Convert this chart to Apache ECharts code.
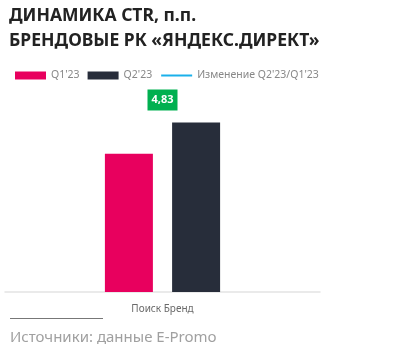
<!DOCTYPE html>
<html><head><meta charset="utf-8">
<script src="https://cdn.jsdelivr.net/npm/echarts@6/dist/echarts.min.js"></script>
<style>html,body{margin:0;padding:0;background:#fff}#c{width:398px;height:362px}</style>
</head><body><div id="c"></div>
<script>
const categories = ['Поиск Бренд'];
const seriesNames = ["Q1'23", "Q2'23", "Изменение Q2'23/Q1'23"];
const q1Values = [21.5];
const q2Values = [26.33];
const changeValues = [4.83];

const chart = echarts.init(document.getElementById('c'));
chart.setOption({
  animation: false,
  title: {
    text: 'ДИНАМИКА CTR, п.п.\nБРЕНДОВЫЕ РК «ЯНДЕКС.ДИРЕКТ»',
    left: 9, top: 4, padding: 0,
    textStyle: {fontFamily: 'Noto Sans', fontWeight: 'bold', fontSize: 17.5, lineHeight: 25, color: '#222'}
  },
  legend: {
    left: 10, top: 65, itemWidth: 31, itemHeight: 8, itemGap: 8,
    textStyle: {fontFamily: 'Noto Sans', fontSize: 10.5, color: '#888'},
    data: [
      {name: seriesNames[0], icon: 'rect'},
      {name: seriesNames[1], icon: 'rect'},
      {name: seriesNames[2], itemStyle: {opacity: 0}}
    ]
  },
  grid: {left: 5, right: 78, top: 99, bottom: 70},
  xAxis: {
    type: 'category', data: categories,
    axisLine: {lineStyle: {color: '#e3e3e3', width: 1.5}},
    axisTick: {show: false},
    axisLabel: {fontFamily: 'Noto Sans', fontSize: 10, color: '#6a6a6a', margin: 12}
  },
  yAxis: [
    {type: 'value', min: 0, max: 30, show: false},
    {type: 'value', min: 0, max: 4.83, show: false}
  ],
  series: [
    {name: seriesNames[0], type: 'bar', data: q1Values, barWidth: 48, barGap: '40%', itemStyle: {color: '#e8005e'}},
    {name: seriesNames[1], type: 'bar', data: q2Values, barWidth: 48, itemStyle: {color: '#272d3a'}},
    {name: seriesNames[2], type: 'line', yAxisIndex: 1, data: changeValues, symbol: 'circle', symbolSize: 0,
     itemStyle: {color: '#1ab0ea'}, lineStyle: {color: '#1ab0ea', width: 3},
     label: {show: true, position: 'inside', formatter: p => String(p.value).replace('.', ','),
       backgroundColor: '#00b050', color: '#fff', fontFamily: 'Noto Sans', fontWeight: 'bold', fontSize: 11,
       padding: [5, 4, 5, 4], offset: [0, 1]}}
  ],
  graphic: [
    {type: 'line', shape: {x1: 10, y1: 318.5, x2: 103, y2: 318.5}, style: {stroke: '#777', lineWidth: 1}},
    {type: 'text', left: 10, top: 330, style: {text: 'Источники: данные E-Promo', fontFamily: 'Noto Sans', fontSize: 15, fill: '#a0a0a0'}}
  ]
});
</script></body></html>
